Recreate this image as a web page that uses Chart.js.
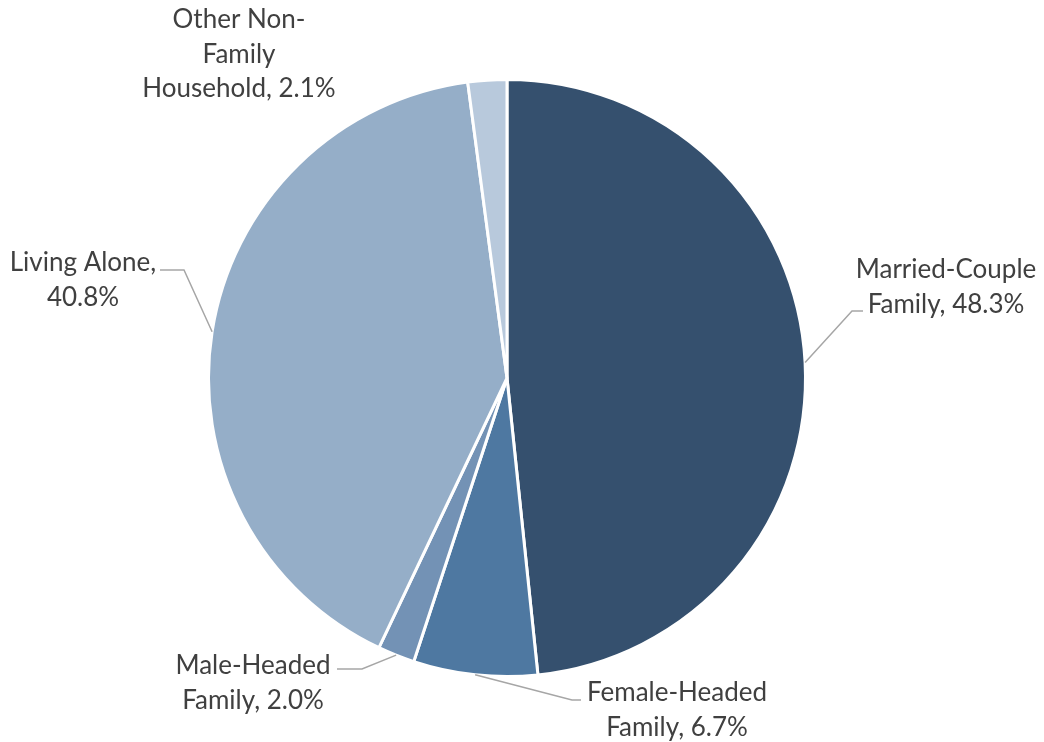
<!DOCTYPE html>
<html>
<head>
<meta charset="utf-8">
<script src="https://cdn.jsdelivr.net/npm/chart.js@4"></script>
<style>
  html, body { margin: 0; padding: 0; background: #fff; }
  #wrap { width: 1044px; height: 742px; position: relative; }
</style>
</head>
<body>
<div id="wrap"><canvas id="chart"></canvas></div>
<script>
const categories = [
  "Married-Couple Family",
  "Female-Headed Family",
  "Male-Headed Family",
  "Living Alone",
  "Other Non-Family Household"
];
const shares = [48.3, 6.7, 2.0, 40.8, 2.1];
const labelLines = [
  ["Married-Couple", "Family, 48.3%"],
  ["Female-Headed", "Family, 6.7%"],
  ["Male-Headed", "Family, 2.0%"],
  ["Living Alone,", "40.8%"],
  ["Other Non-", "Family", "Household, 2.1%"]
];
const sliceColors = ["#35506e", "#4e78a1", "#7392b5", "#95aec8", "#b8c9dc"];

// where each label sits and how its leader line bends
const labelLayout = [
  { x: 946, y: 270, elbow: [852, 311], end: 863 },
  { x: 677, y: 693, elbow: [572, 700], end: 581 },
  { x: 253, y: 666, elbow: [362, 669], end: 337 },
  { x: 83, y: 263, elbow: [184, 270], end: 160 },
  { x: 239, y: 20, elbow: null, end: null }
];

const pieLabels = {
  id: "pieLabels",
  afterDatasetsDraw(chart) {
    const ctx = chart.ctx;
    const arcs = chart.getDatasetMeta(0).data;
    ctx.save();
    arcs.forEach((arc, i) => {
      const p = arc.getProps(["x", "y", "startAngle", "endAngle", "outerRadius"], true);
      const mid = (p.startAngle + p.endAngle) / 2;
      const sx = p.x + Math.cos(mid) * p.outerRadius;
      const sy = p.y + Math.sin(mid) * p.outerRadius;
      const lay = labelLayout[i];
      if (lay.elbow) {
        ctx.strokeStyle = "#a6a6a6";
        ctx.lineWidth = 1.5;
        ctx.beginPath();
        ctx.moveTo(sx, sy);
        ctx.lineTo(lay.elbow[0], lay.elbow[1]);
        ctx.lineTo(lay.end, lay.elbow[1]);
        ctx.stroke();
      }
      ctx.fillStyle = "#404040";
      ctx.font = "26px Lato, 'Open Sans', sans-serif";
      ctx.textAlign = "center";
      ctx.textBaseline = "middle";
      labelLines[i].forEach((line, k) => {
        ctx.fillText(line, lay.x, lay.y + k * 34.5);
      });
    });
    ctx.restore();
  }
};

new Chart(document.getElementById("chart"), {
  type: "pie",
  data: {
    labels: categories,
    datasets: [{
      data: shares,
      backgroundColor: sliceColors,
      borderColor: "#ffffff",
      borderWidth: 3
    }]
  },
  options: {
    responsive: true,
    maintainAspectRatio: false,
    animation: false,
    layout: { padding: { top: 78, bottom: 64, left: 0, right: 30 } },
    plugins: {
      legend: { display: false },
      tooltip: { enabled: false }
    }
  },
  plugins: [pieLabels]
});
</script>
</body>
</html>
